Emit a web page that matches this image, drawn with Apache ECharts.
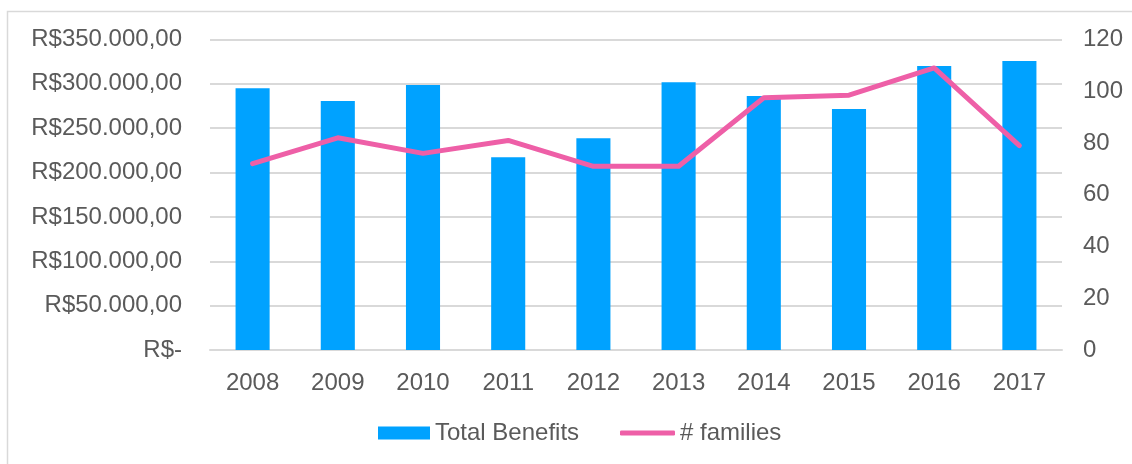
<!DOCTYPE html>
<html>
<head>
<meta charset="utf-8">
<script src="https://cdn.jsdelivr.net/npm/echarts@6/dist/echarts.min.js"></script>
<style>
  html, body { margin: 0; padding: 0; background: #ffffff; }
  #chart { width: 1132px; height: 464px; }
</style>
</head>
<body>
<div id="chart"></div>
<script>
// Yearly totals (R$) and number of families served
const years = ['2008', '2009', '2010', '2011', '2012', '2013', '2014', '2015', '2016', '2017'];
const totalBenefits = [295000, 280600, 298700, 217200, 238600, 301700, 286300, 271600, 320100, 325700];
const families = [72, 82, 76, 81, 71, 71, 97.5, 98.5, 109, 79];

const FONT = "'Liberation Sans', Arial, Helvetica, sans-serif";
const TEXT = '#5a5a5a';
const GRID = '#d9d9d9';

// Brazilian currency style: R$350.000,00 ; zero shown as "R$-"
function brl(v) {
  if (v === 0) return 'R$-';
  const s = Math.round(v).toString().replace(/\B(?=(\d{3})+(?!\d))/g, '.');
  return 'R$' + s + ',00';
}

const chart = echarts.init(document.getElementById('chart'), null, { renderer: 'canvas' });

chart.setOption({
  animation: false,
  backgroundColor: '#ffffff',
  textStyle: { fontFamily: FONT },
  graphic: [{
    type: 'rect',
    silent: true,
    shape: { x: 7.5, y: 11.5, width: 1300, height: 600 },
    style: { fill: 'none', stroke: GRID, lineWidth: 1.5 }
  }],
  grid: { left: 210, right: 70, top: 39.5, bottom: 114, containLabel: false },
  legend: [{
    data: [{ name: 'Total Benefits', icon: 'rect' }],
    left: 378, top: 421, padding: 0,
    itemWidth: 52, itemHeight: 13, itemGap: 0,
    textStyle: { fontFamily: FONT, fontSize: 24, color: TEXT }
  }, {
    data: [{ name: '# families', icon: 'roundRect' }],
    left: 620, top: 421, padding: 0,
    itemWidth: 55, itemHeight: 5, itemGap: 0,
    textStyle: { fontFamily: FONT, fontSize: 24, color: TEXT }
  }],
  xAxis: {
    type: 'category',
    data: years,
    axisLine: { show: true, lineStyle: { color: GRID, width: 2 } },
    axisTick: { show: false },
    axisLabel: { color: TEXT, fontSize: 24, fontFamily: FONT, margin: 21 }
  },
  yAxis: [{
    type: 'value',
    min: 0, max: 350000, interval: 50000,
    axisLine: { show: false },
    axisTick: { show: false },
    splitLine: { show: true, lineStyle: { color: GRID, width: 2 } },
    axisLabel: { color: TEXT, fontSize: 24, fontFamily: FONT, margin: 28, formatter: brl }
  }, {
    type: 'value',
    min: 0, max: 120, interval: 20,
    axisLine: { show: false },
    axisTick: { show: false },
    splitLine: { show: false },
    axisLabel: { color: TEXT, fontSize: 24, fontFamily: FONT, margin: 21 }
  }],
  series: [{
    name: 'Total Benefits',
    type: 'bar',
    data: totalBenefits,
    barWidth: '40%',
    itemStyle: { color: '#00a2ff' }
  }, {
    name: '# families',
    type: 'line',
    yAxisIndex: 1,
    data: families,
    showSymbol: false,
    symbol: 'none',
    lineStyle: { color: '#ee5fa7', width: 5, cap: 'round', join: 'round' },
    itemStyle: { color: '#ee5fa7' }
  }]
});
</script>
</body>
</html>
